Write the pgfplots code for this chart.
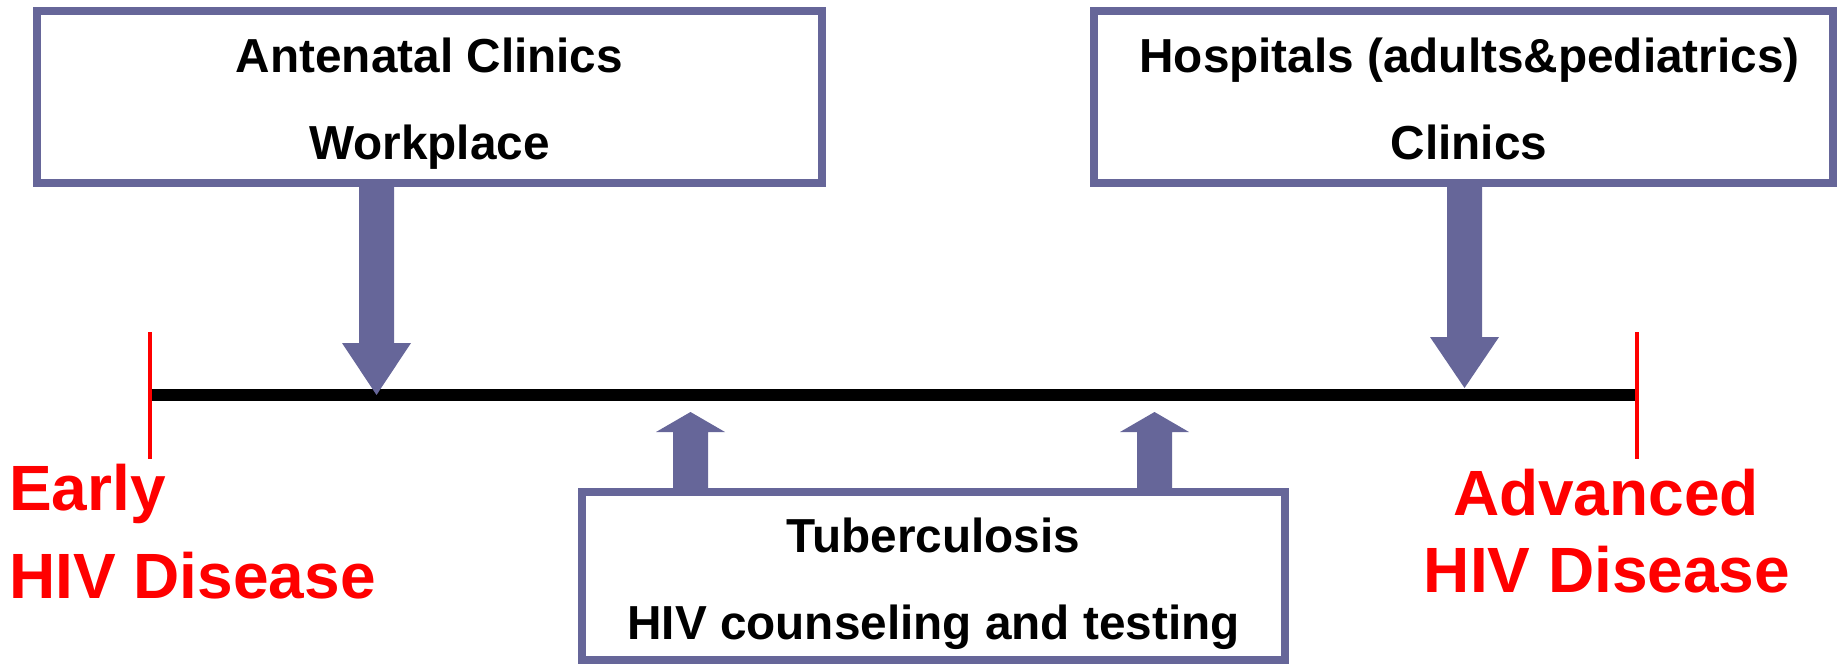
\documentclass[border=0pt]{standalone}
\usepackage{pgfplots}
\pgfplotsset{compat=1.18}
\usepackage{fontspec}
\setmainfont{Liberation Sans}
\definecolor{boxcol}{RGB}{102,102,153}
\definecolor{redc}{RGB}{255,0,0}
\begin{document}
\begin{tikzpicture}
\begin{axis}[scale only axis, width=459.25pt, height=166pt,
  xmin=0, xmax=1837, ymin=0, ymax=664, y dir=reverse,
  axis line style={draw=none}, ticks=none, clip=false]
% boxes (outer border, then white inside)
\addplot[fill=boxcol, draw=none] coordinates {(33,7)(826,7)(826,187)(33,187)};
\addplot[fill=white, draw=none] coordinates {(41,15)(818,15)(818,179)(41,179)};
\addplot[fill=boxcol, draw=none] coordinates {(1090,7)(1837,7)(1837,187)(1090,187)};
\addplot[fill=white, draw=none] coordinates {(1098,15)(1829,15)(1829,179)(1098,179)};
\addplot[fill=boxcol, draw=none] coordinates {(578,488)(1289,488)(1289,664)(578,664)};
\addplot[fill=white, draw=none] coordinates {(586,496)(1281,496)(1281,656)(586,656)};
% timeline
\addplot[black, line width=3pt] coordinates {(150,395)(1635,395)};
\addplot[redc, line width=1pt] coordinates {(150,332)(150,459)};
\addplot[redc, line width=1pt] coordinates {(1637,332)(1637,459)};
% arrows
\addplot[fill=boxcol, draw=none] coordinates {(359,187)(394,187)(394,343)(411,343)(376.5,395)(342,343)(359,343)};
\addplot[fill=boxcol, draw=none] coordinates {(1447,187)(1482,187)(1482,337)(1499,337)(1464.5,388)(1430,337)(1447,337)};
\addplot[fill=boxcol, draw=none] coordinates {(673,488)(708,488)(708,432)(725,432)(690.5,412)(656,432)(673,432)};
\addplot[fill=boxcol, draw=none] coordinates {(1137,488)(1172,488)(1172,432)(1189,432)(1154.5,412)(1120,432)(1137,432)};
% texts
\tikzset{bt/.style={anchor=base, inner sep=0pt, font=\bfseries\fontsize{11.93}{14}\selectfont},
         rt/.style={inner sep=0pt, text=redc, font=\bfseries\fontsize{16}{18}\selectfont}}
\node[bt] at (axis cs:429.5,72) {Antenatal Clinics};
\node[bt] at (axis cs:429.5,159) {Workplace};
\node[bt] at (axis cs:1469.5,72) {Hospitals (adults\&pediatrics)};
\node[bt] at (axis cs:1469,159) {Clinics};
\node[bt] at (axis cs:933.5,552) {Tuberculosis};
\node[bt] at (axis cs:933.5,639) {HIV counseling and testing};
\node[rt, anchor=base west] at (axis cs:8.5,510) {Early};
\node[rt, anchor=base west] at (axis cs:8.5,598) {HIV Disease};
\node[rt, anchor=base] at (axis cs:1606,515) {Advanced};
\node[rt, anchor=base] at (axis cs:1607,592) {HIV Disease};
\end{axis}
\end{tikzpicture}
\end{document}
